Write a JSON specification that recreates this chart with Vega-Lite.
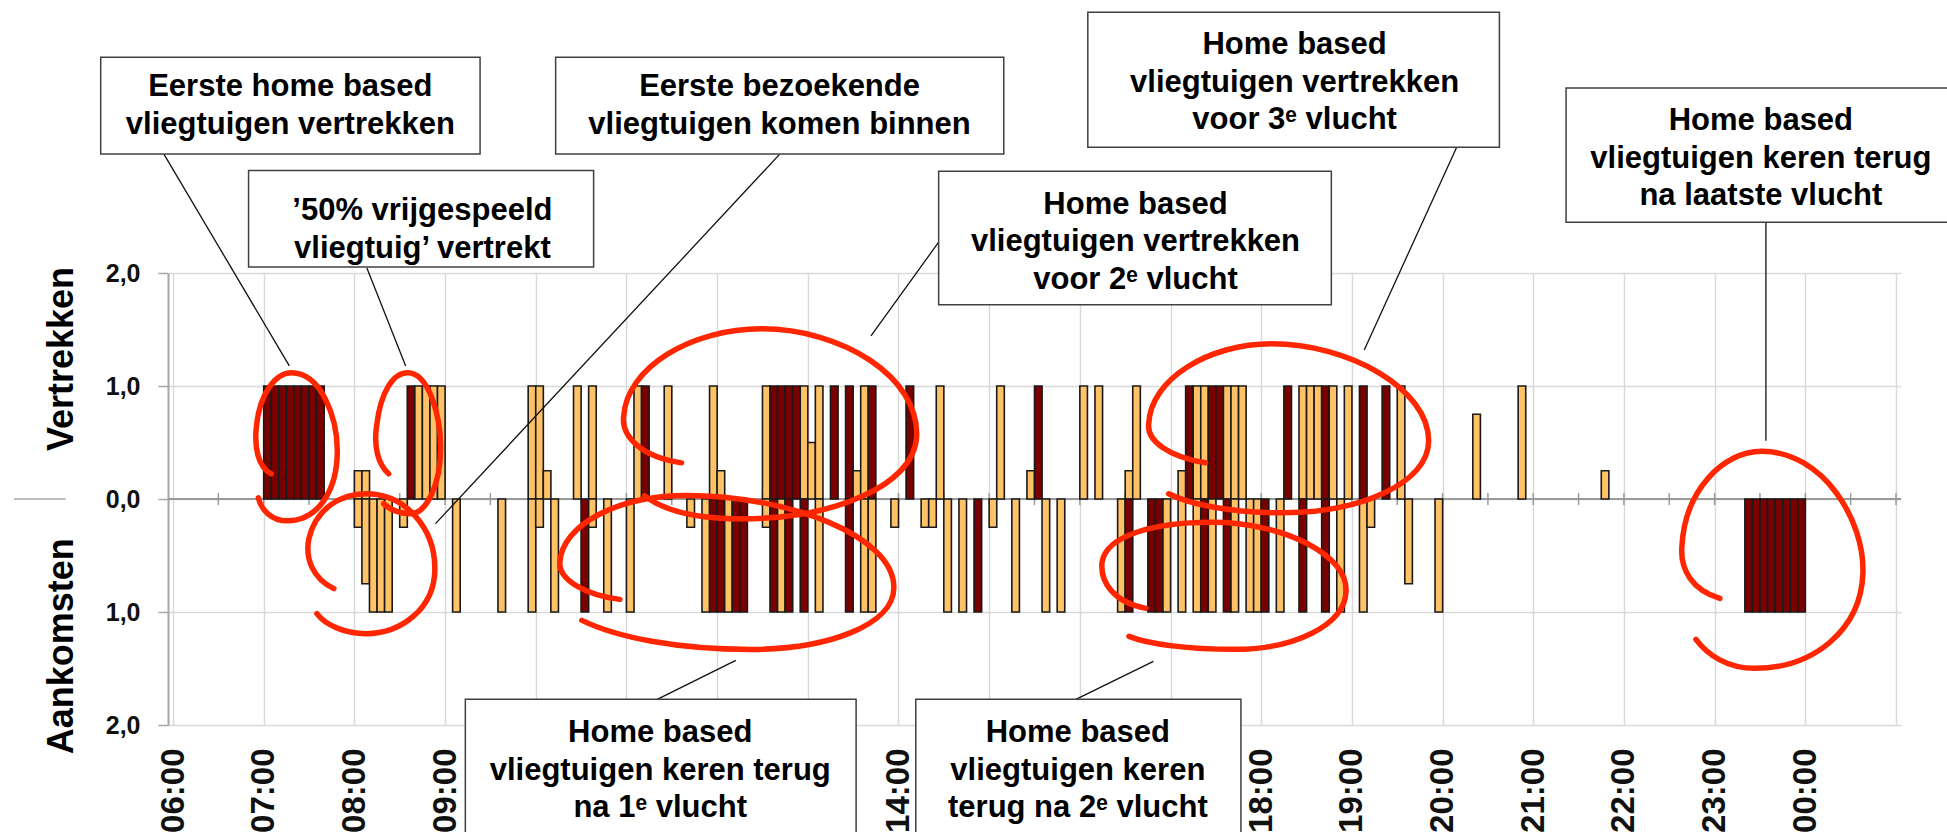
{
  "$schema": "https://vega.github.io/schema/vega-lite/v6.json",
  "width": 1733,
  "height": 452,
  "autosize": {"type": "none"},
  "padding": {"left": 168, "top": 273, "right": 46, "bottom": 107},
  "background": "white",
  "config": {"view": {"stroke": null}, "font": "Liberation Sans"},
  "layer": [
    {
      "data": {"values": [{}]},
      "mark": {"type": "rule", "color": "#9a9a9a", "strokeWidth": 2},
      "encoding": {
        "y": {"datum": 0, "type": "quantitative", "scale": {"domain": [-2, 2], "nice": false}, "axis": {"title": null}}
      }
    },
    {
      "data": {
        "values": [
          {"minuut": 390}, {"minuut": 420}, {"minuut": 450}, {"minuut": 480}, {"minuut": 510}, {"minuut": 540},
          {"minuut": 570}, {"minuut": 600}, {"minuut": 630}, {"minuut": 660}, {"minuut": 690}, {"minuut": 720},
          {"minuut": 750}, {"minuut": 780}, {"minuut": 810}, {"minuut": 840}, {"minuut": 870}, {"minuut": 900},
          {"minuut": 930}, {"minuut": 960}, {"minuut": 990}, {"minuut": 1020}, {"minuut": 1050}, {"minuut": 1080},
          {"minuut": 1110}, {"minuut": 1140}, {"minuut": 1170}, {"minuut": 1200}, {"minuut": 1230}, {"minuut": 1260},
          {"minuut": 1290}, {"minuut": 1320}, {"minuut": 1350}, {"minuut": 1380}, {"minuut": 1410}, {"minuut": 1440},
          {"minuut": 1470}, {"minuut": 1500}
        ]
      },
      "mark": {"type": "tick", "orient": "vertical", "color": "#9a9a9a", "size": 12, "thickness": 1.5, "opacity": 1},
      "encoding": {
        "x": {"field": "minuut", "type": "quantitative", "scale": {"domain": [360, 1500], "nice": false, "zero": false}, "axis": {"title": null}},
        "y": {"datum": 0, "type": "quantitative", "scale": {"domain": [-2, 2], "nice": false}, "axis": {"title": null}}
      }
    },
    {
      "data": {
        "values": [
          {"minuut": 420, "aantal": 1, "soort": "home based"},
          {"minuut": 425, "aantal": 1, "soort": "home based"},
          {"minuut": 430, "aantal": 1, "soort": "home based"},
          {"minuut": 435, "aantal": 1, "soort": "home based"},
          {"minuut": 440, "aantal": 1, "soort": "home based"},
          {"minuut": 445, "aantal": 1, "soort": "home based"},
          {"minuut": 450, "aantal": 1, "soort": "home based"},
          {"minuut": 455, "aantal": 1, "soort": "home based"},
          {"minuut": 480, "aantal": 0.25, "soort": "bezoekend"},
          {"minuut": 485, "aantal": 0.25, "soort": "bezoekend"},
          {"minuut": 515, "aantal": 1, "soort": "home based"},
          {"minuut": 520, "aantal": 1, "soort": "bezoekend"},
          {"minuut": 525, "aantal": 1, "soort": "bezoekend"},
          {"minuut": 530, "aantal": 1, "soort": "bezoekend"},
          {"minuut": 535, "aantal": 1, "soort": "bezoekend"},
          {"minuut": 595, "aantal": 1, "soort": "bezoekend"},
          {"minuut": 600, "aantal": 1, "soort": "bezoekend"},
          {"minuut": 605, "aantal": 0.25, "soort": "bezoekend"},
          {"minuut": 625, "aantal": 1, "soort": "bezoekend"},
          {"minuut": 635, "aantal": 1, "soort": "bezoekend"},
          {"minuut": 665, "aantal": 1, "soort": "bezoekend"},
          {"minuut": 670, "aantal": 1, "soort": "home based"},
          {"minuut": 685, "aantal": 1, "soort": "bezoekend"},
          {"minuut": 715, "aantal": 1, "soort": "bezoekend"},
          {"minuut": 720, "aantal": 0.25, "soort": "bezoekend"},
          {"minuut": 750, "aantal": 1, "soort": "bezoekend"},
          {"minuut": 755, "aantal": 1, "soort": "home based"},
          {"minuut": 760, "aantal": 1, "soort": "home based"},
          {"minuut": 765, "aantal": 1, "soort": "home based"},
          {"minuut": 770, "aantal": 1, "soort": "home based"},
          {"minuut": 775, "aantal": 1, "soort": "bezoekend"},
          {"minuut": 780, "aantal": 0.5, "soort": "bezoekend"},
          {"minuut": 785, "aantal": 1, "soort": "bezoekend"},
          {"minuut": 795, "aantal": 1, "soort": "home based"},
          {"minuut": 805, "aantal": 1, "soort": "home based"},
          {"minuut": 810, "aantal": 0.25, "soort": "bezoekend"},
          {"minuut": 815, "aantal": 1, "soort": "bezoekend"},
          {"minuut": 820, "aantal": 1, "soort": "home based"},
          {"minuut": 845, "aantal": 1, "soort": "home based"},
          {"minuut": 865, "aantal": 1, "soort": "bezoekend"},
          {"minuut": 905, "aantal": 1, "soort": "bezoekend"},
          {"minuut": 925, "aantal": 0.25, "soort": "bezoekend"},
          {"minuut": 930, "aantal": 1, "soort": "home based"},
          {"minuut": 960, "aantal": 1, "soort": "bezoekend"},
          {"minuut": 970, "aantal": 1, "soort": "bezoekend"},
          {"minuut": 990, "aantal": 0.25, "soort": "bezoekend"},
          {"minuut": 995, "aantal": 1, "soort": "bezoekend"},
          {"minuut": 1025, "aantal": 0.25, "soort": "bezoekend"},
          {"minuut": 1030, "aantal": 1, "soort": "home based"},
          {"minuut": 1035, "aantal": 1, "soort": "bezoekend"},
          {"minuut": 1040, "aantal": 1, "soort": "bezoekend"},
          {"minuut": 1045, "aantal": 1, "soort": "home based"},
          {"minuut": 1050, "aantal": 1, "soort": "home based"},
          {"minuut": 1055, "aantal": 1, "soort": "bezoekend"},
          {"minuut": 1060, "aantal": 1, "soort": "bezoekend"},
          {"minuut": 1065, "aantal": 1, "soort": "bezoekend"},
          {"minuut": 1095, "aantal": 1, "soort": "home based"},
          {"minuut": 1105, "aantal": 1, "soort": "bezoekend"},
          {"minuut": 1110, "aantal": 1, "soort": "bezoekend"},
          {"minuut": 1115, "aantal": 1, "soort": "bezoekend"},
          {"minuut": 1120, "aantal": 1, "soort": "home based"},
          {"minuut": 1125, "aantal": 1, "soort": "bezoekend"},
          {"minuut": 1135, "aantal": 1, "soort": "bezoekend"},
          {"minuut": 1145, "aantal": 1, "soort": "home based"},
          {"minuut": 1160, "aantal": 1, "soort": "home based"},
          {"minuut": 1170, "aantal": 1, "soort": "bezoekend"},
          {"minuut": 1220, "aantal": 0.75, "soort": "bezoekend"},
          {"minuut": 1250, "aantal": 1, "soort": "bezoekend"},
          {"minuut": 1305, "aantal": 0.25, "soort": "bezoekend"},
          {"minuut": 480, "aantal": -0.25, "soort": "bezoekend"},
          {"minuut": 485, "aantal": -0.75, "soort": "bezoekend"},
          {"minuut": 490, "aantal": -1, "soort": "bezoekend"},
          {"minuut": 495, "aantal": -1, "soort": "bezoekend"},
          {"minuut": 500, "aantal": -1, "soort": "bezoekend"},
          {"minuut": 510, "aantal": -0.25, "soort": "bezoekend"},
          {"minuut": 545, "aantal": -1, "soort": "bezoekend"},
          {"minuut": 575, "aantal": -1, "soort": "bezoekend"},
          {"minuut": 595, "aantal": -1, "soort": "bezoekend"},
          {"minuut": 600, "aantal": -0.25, "soort": "bezoekend"},
          {"minuut": 610, "aantal": -1, "soort": "bezoekend"},
          {"minuut": 630, "aantal": -1, "soort": "home based"},
          {"minuut": 635, "aantal": -0.25, "soort": "bezoekend"},
          {"minuut": 645, "aantal": -1, "soort": "bezoekend"},
          {"minuut": 660, "aantal": -1, "soort": "bezoekend"},
          {"minuut": 700, "aantal": -0.25, "soort": "bezoekend"},
          {"minuut": 710, "aantal": -1, "soort": "bezoekend"},
          {"minuut": 715, "aantal": -1, "soort": "home based"},
          {"minuut": 720, "aantal": -1, "soort": "home based"},
          {"minuut": 725, "aantal": -1, "soort": "bezoekend"},
          {"minuut": 730, "aantal": -1, "soort": "home based"},
          {"minuut": 735, "aantal": -1, "soort": "home based"},
          {"minuut": 750, "aantal": -0.25, "soort": "bezoekend"},
          {"minuut": 755, "aantal": -1, "soort": "home based"},
          {"minuut": 760, "aantal": -1, "soort": "bezoekend"},
          {"minuut": 765, "aantal": -1, "soort": "home based"},
          {"minuut": 775, "aantal": -1, "soort": "home based"},
          {"minuut": 785, "aantal": -1, "soort": "bezoekend"},
          {"minuut": 805, "aantal": -1, "soort": "home based"},
          {"minuut": 815, "aantal": -1, "soort": "bezoekend"},
          {"minuut": 820, "aantal": -1, "soort": "bezoekend"},
          {"minuut": 835, "aantal": -0.25, "soort": "bezoekend"},
          {"minuut": 855, "aantal": -0.25, "soort": "bezoekend"},
          {"minuut": 860, "aantal": -0.25, "soort": "bezoekend"},
          {"minuut": 870, "aantal": -1, "soort": "bezoekend"},
          {"minuut": 880, "aantal": -1, "soort": "bezoekend"},
          {"minuut": 890, "aantal": -1, "soort": "home based"},
          {"minuut": 900, "aantal": -0.25, "soort": "bezoekend"},
          {"minuut": 915, "aantal": -1, "soort": "bezoekend"},
          {"minuut": 935, "aantal": -1, "soort": "bezoekend"},
          {"minuut": 945, "aantal": -1, "soort": "bezoekend"},
          {"minuut": 985, "aantal": -1, "soort": "bezoekend"},
          {"minuut": 990, "aantal": -1, "soort": "home based"},
          {"minuut": 1005, "aantal": -1, "soort": "home based"},
          {"minuut": 1010, "aantal": -1, "soort": "home based"},
          {"minuut": 1015, "aantal": -1, "soort": "bezoekend"},
          {"minuut": 1025, "aantal": -1, "soort": "bezoekend"},
          {"minuut": 1035, "aantal": -1, "soort": "bezoekend"},
          {"minuut": 1040, "aantal": -1, "soort": "home based"},
          {"minuut": 1045, "aantal": -1, "soort": "bezoekend"},
          {"minuut": 1055, "aantal": -1, "soort": "home based"},
          {"minuut": 1060, "aantal": -1, "soort": "bezoekend"},
          {"minuut": 1070, "aantal": -1, "soort": "bezoekend"},
          {"minuut": 1075, "aantal": -1, "soort": "bezoekend"},
          {"minuut": 1080, "aantal": -1, "soort": "home based"},
          {"minuut": 1090, "aantal": -1, "soort": "bezoekend"},
          {"minuut": 1105, "aantal": -1, "soort": "home based"},
          {"minuut": 1120, "aantal": -1, "soort": "home based"},
          {"minuut": 1130, "aantal": -1, "soort": "bezoekend"},
          {"minuut": 1145, "aantal": -1, "soort": "bezoekend"},
          {"minuut": 1150, "aantal": -0.25, "soort": "bezoekend"},
          {"minuut": 1175, "aantal": -0.75, "soort": "bezoekend"},
          {"minuut": 1195, "aantal": -1, "soort": "bezoekend"},
          {"minuut": 1400, "aantal": -1, "soort": "home based"},
          {"minuut": 1405, "aantal": -1, "soort": "home based"},
          {"minuut": 1410, "aantal": -1, "soort": "home based"},
          {"minuut": 1415, "aantal": -1, "soort": "home based"},
          {"minuut": 1420, "aantal": -1, "soort": "home based"},
          {"minuut": 1425, "aantal": -1, "soort": "home based"},
          {"minuut": 1430, "aantal": -1, "soort": "home based"},
          {"minuut": 1435, "aantal": -1, "soort": "home based"}
        ]
      },
      "mark": {"type": "bar", "width": 7.6, "xOffset": 3.8, "stroke": "#1a1a1a", "strokeWidth": 1.6},
      "encoding": {
        "x": {
          "field": "minuut",
          "type": "quantitative",
          "scale": {"domain": [360, 1500], "nice": false, "zero": false},
          "axis": {
            "values": [360, 420, 480, 540, 600, 660, 720, 780, 840, 900, 960, 1020, 1080, 1140, 1200, 1260, 1320, 1380, 1440, 1500],
            "labelExpr": "datum.value >= 1500 ? '' : ((floor(datum.value / 60) % 24 < 10 ? '0' : '') + (floor(datum.value / 60) % 24) + ':00')",
            "labelAngle": 270,
            "labelFontSize": 33,
            "labelFontWeight": "bold",
            "labelColor": "#111111",
            "labelPadding": 23,
            "labelOverlap": false,
            "labelFlush": false,
            "labelBound": false,
            "ticks": false,
            "tickSize": 0,
            "domain": false,
            "grid": true,
            "gridColor": "#d9d9d9",
            "gridWidth": 1.5,
            "title": null
          }
        },
        "y": {
          "field": "aantal",
          "type": "quantitative",
          "scale": {"domain": [-2, 2], "nice": false},
          "axis": {
            "values": [-2, -1, 0, 1, 2],
            "labelExpr": "replace(format(abs(datum.value), '.1f'), '.', ',')",
            "labelFontSize": 25,
            "labelFontWeight": "bold",
            "labelColor": "#111111",
            "labelPadding": 18,
            "tickSize": 10,
            "tickColor": "#a6a6a6",
            "tickWidth": 1.5,
            "domainColor": "#a6a6a6",
            "domainWidth": 2,
            "grid": true,
            "gridColor": "#d9d9d9",
            "gridWidth": 1.5,
            "title": null
          }
        },
        "color": {
          "field": "soort",
          "type": "nominal",
          "scale": {"domain": ["home based", "bezoekend"], "range": ["#7a0000", "#ffc266"]},
          "legend": null
        }
      }
    },
    {
      "data": {
        "values": [
          {"van": 354.08, "tot": 436.97, "y1": 3.05, "y2": 1.178},
          {"van": 488.28, "tot": 513.95, "y1": 2.045, "y2": 1.178},
          {"van": 761.32, "tot": 533.68, "y1": 3.05, "y2": -0.218},
          {"van": 866.58, "tot": 821.83, "y1": 2.273, "y2": 1.443},
          {"van": 1209.33, "tot": 1148.17, "y1": 3.113, "y2": 1.319},
          {"van": 1413.93, "tot": 1413.93, "y1": 2.45, "y2": 0.515},
          {"van": 680.38, "tot": 732.37, "y1": -1.773, "y2": -1.428},
          {"van": 957.37, "tot": 1008.68, "y1": -1.773, "y2": -1.437}
        ]
      },
      "mark": {"type": "rule", "color": "#111111", "strokeWidth": 1.3},
      "encoding": {
        "x": {"field": "van", "type": "quantitative", "scale": {"domain": [360, 1500], "nice": false, "zero": false}, "axis": {"title": null}},
        "x2": {"field": "tot"},
        "y": {"field": "y1", "type": "quantitative", "scale": {"domain": [-2, 2], "nice": false}, "axis": {"title": null}},
        "y2": {"field": "y2"}
      }
    },
    {
      "data": {
        "values": [
          {"lus": "A", "minuut": 441.58, "y": 0.453},
          {"lus": "B", "minuut": 519.22, "y": 0.471},
          {"lus": "C", "minuut": 490.92, "y": -0.572},
          {"lus": "D", "minuut": 756.05, "y": 0.727},
          {"lus": "E", "minuut": 726.45, "y": -0.676},
          {"lus": "F", "minuut": 1098.17, "y": 0.621},
          {"lus": "G", "minuut": 1055.38, "y": -0.72},
          {"lus": "H", "minuut": 1418.55, "y": -0.543}
        ]
      },
      "mark": {"type": "point", "filled": false, "stroke": "#ff2600", "strokeWidth": 5.5, "strokeCap": "round", "opacity": 1, "size": 4},
      "encoding": {
        "x": {"field": "minuut", "type": "quantitative", "scale": {"domain": [360, 1500], "nice": false, "zero": false}, "axis": {"title": null}},
        "y": {"field": "y", "type": "quantitative", "scale": {"domain": [-2, 2], "nice": false}, "axis": {"title": null}},
        "shape": {
          "field": "lus",
          "type": "nominal",
          "legend": null,
          "scale": {
            "domain": ["A", "B", "C", "D", "E", "F", "G", "H"],
            "range": [
              "M -25 26 C -38 20 -42 0 -40 -20 C -37 -55 -20 -75 -5 -75 C 25 -75 41 -30 41 3 C 41 45 20 73 -9 73 C -25 73 -35 62 -38 50",
              "M -25 28 C -36 18 -40 0 -37 -20 C -33 -55 -20 -73 -6 -73 C 15 -73 27 -30 27 2 C 27 40 12 68 -3 68 C -15 68 -25 63 -30 58",
              "M -37 25 C -58 15 -66 -5 -62 -25 C -55 -55 -30 -70 -5 -70 C 35 -70 64 -35 64 5 C 64 45 30 70 -5 70 C -25 70 -45 62 -54 50",
              "M -90 46 C -130 40 -150 20 -148 0 C -145 -50 -80 -88 -10 -88 C 70 -88 148 -40 145 20 C 142 70 60 102 -30 102 C -80 102 -110 92 -127 79",
              "M -107 24 C -140 20 -168 5 -167 -13 C -165 -50 -110 -80 -40 -80 C 60 -80 167 -40 167 12 C 167 50 100 74 24 74 C -50 74 -110 62 -145 45",
              "M -83 34 C -120 28 -142 12 -140 -5 C -138 -50 -80 -85 -17 -85 C 60 -85 140 -40 140 12 C 140 55 70 84 -7 84 C -60 84 -100 75 -120 65",
              "M -78 28 C -110 22 -124 2 -122 -18 C -118 -45 -70 -58 -12 -58 C 60 -58 125 -25 122 12 C 120 45 70 69 11 69 C -35 69 -75 64 -95 56",
              "M -53 38 C -80 30 -93 10 -91 -14 C -88 -70 -50 -109 -11 -109 C 50 -109 92 -40 90 13 C 88 70 40 108 -18 108 C -45 108 -65 95 -77 79"
            ]
          }
        }
      }
    },
    {
      "data": {
        "values": [
          {"van": 312.17, "tot": 563.17, "boven": 3.91, "onder": 3.053},
          {"van": 410, "tot": 638.3, "boven": 2.906, "onder": 2.052},
          {"van": 613.17, "tot": 909.67, "boven": 3.91, "onder": 3.053},
          {"van": 866.58, "tot": 1126.4, "boven": 2.9, "onder": 1.718},
          {"van": 965.27, "tot": 1237.6, "boven": 4.308, "onder": 3.113},
          {"van": 1281.7, "tot": 1540.3, "boven": 3.638, "onder": 2.45},
          {"van": 553.42, "tot": 811.97, "boven": -1.773, "onder": -3.195},
          {"van": 851.45, "tot": 1066.58, "boven": -1.773, "onder": -3.195}
        ]
      },
      "mark": {"type": "rect", "fill": "white", "stroke": "#404040", "strokeWidth": 1.5},
      "encoding": {
        "x": {"field": "van", "type": "quantitative", "scale": {"domain": [360, 1500], "nice": false, "zero": false}, "axis": {"title": null}},
        "x2": {"field": "tot"},
        "y": {"field": "boven", "type": "quantitative", "scale": {"domain": [-2, 2], "nice": false}, "axis": {"title": null}},
        "y2": {"field": "onder"}
      }
    },
    {
      "data": {
        "values": [
          {"minuut": 437.63, "y": 3.563, "tekst": "Eerste home based\nvliegtuigen vertrekken"},
          {"minuut": 525, "y": 2.467, "tekst": "’50% vrijgespeeld\nvliegtuig’ vertrekt"},
          {"minuut": 761.32, "y": 3.563, "tekst": "Eerste bezoekende\nvliegtuigen komen binnen"},
          {"minuut": 996.83, "y": 2.525, "tekst": "Home based\nvliegtuigen vertrekken\nvoor 2ᵉ vlucht"},
          {"minuut": 1102.1, "y": 3.934, "tekst": "Home based\nvliegtuigen vertrekken\nvoor 3ᵉ vlucht"},
          {"minuut": 1410.6, "y": 3.262, "tekst": "Home based\nvliegtuigen keren terug\nna laatste vlucht"},
          {"minuut": 682.37, "y": -2.151, "tekst": "Home based\nvliegtuigen keren terug\nna 1ᵉ vlucht"},
          {"minuut": 958.68, "y": -2.151, "tekst": "Home based\nvliegtuigen keren\nterug na 2ᵉ vlucht"}
        ]
      },
      "mark": {"type": "text", "align": "center", "baseline": "alphabetic", "font": "Liberation Sans", "fontSize": 31, "fontWeight": "bold", "lineBreak": "\n", "lineHeight": 37.5, "color": "#000000"},
      "encoding": {
        "x": {"field": "minuut", "type": "quantitative", "scale": {"domain": [360, 1500], "nice": false, "zero": false}, "axis": {"title": null}},
        "y": {"field": "y", "type": "quantitative", "scale": {"domain": [-2, 2], "nice": false}, "axis": {"title": null}},
        "text": {"field": "tekst"}
      }
    },
    {
      "data": {
        "values": [
          {"minuut": 286.32, "y": 1.239, "tekst": "Vertrekken"},
          {"minuut": 286.32, "y": -1.303, "tekst": "Aankomsten"}
        ]
      },
      "mark": {"type": "text", "align": "center", "baseline": "middle", "angle": 270, "font": "Liberation Sans", "fontSize": 36, "fontWeight": "bold", "color": "#000000"},
      "encoding": {
        "x": {"field": "minuut", "type": "quantitative", "scale": {"domain": [360, 1500], "nice": false, "zero": false}, "axis": {"title": null}},
        "y": {"field": "y", "type": "quantitative", "scale": {"domain": [-2, 2], "nice": false}, "axis": {"title": null}},
        "text": {"field": "tekst"}
      }
    },
    {
      "data": {"values": [{"van": 254.73, "tot": 288.95, "y": 0}]},
      "mark": {"type": "rule", "color": "#a6a6a6", "strokeWidth": 1.5},
      "encoding": {
        "x": {"field": "van", "type": "quantitative", "scale": {"domain": [360, 1500], "nice": false, "zero": false}, "axis": {"title": null}},
        "x2": {"field": "tot"},
        "y": {"field": "y", "type": "quantitative", "scale": {"domain": [-2, 2], "nice": false}, "axis": {"title": null}}
      }
    }
  ]
}
